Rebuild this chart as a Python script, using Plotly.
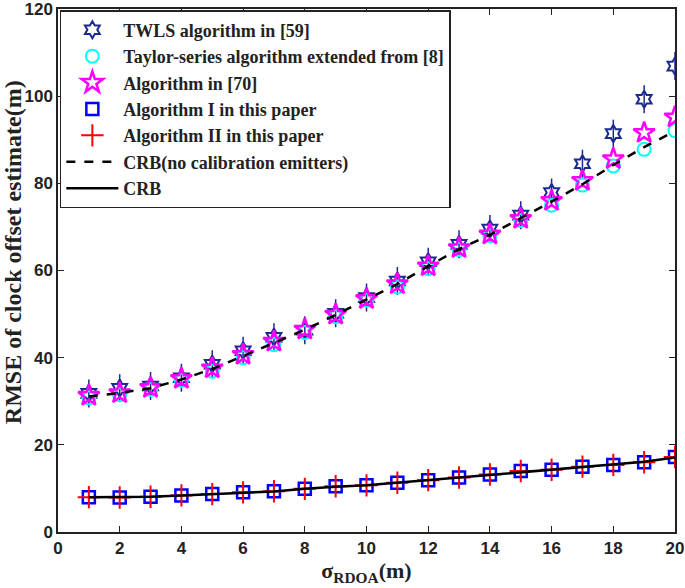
import plotly.graph_objects as go

x = list(range(1, 21))
twls = [31.8, 33.0, 33.5, 35.4, 38.5, 41.6, 44.7, 46.3, 50.2, 53.8, 57.6, 62.0, 66.0, 69.5, 72.7, 77.9, 84.5, 91.4, 99.3, 106.9]
taylor = [30.8, 31.5, 32.7, 34.8, 36.9, 40.0, 43.0, 45.8, 49.4, 53.2, 56.2, 60.4, 64.8, 68.0, 71.5, 75.0, 79.6, 84.0, 87.8, 92.1]
alg70 = [31.3, 31.9, 33.1, 35.2, 37.6, 40.7, 43.7, 46.5, 49.9, 53.5, 56.9, 61.0, 65.2, 68.3, 71.9, 76.0, 80.6, 85.6, 91.6, 95.2]
crb_nocal = [31.1, 31.9, 33.0, 35.0, 37.4, 40.4, 43.4, 46.4, 49.8, 53.4, 56.9, 61.0, 64.9, 68.2, 72.0, 75.8, 79.8, 84.2, 88.3, 92.0]
alg1 = [8.0, 7.9, 8.1, 8.4, 8.7, 9.1, 9.35, 9.9, 10.5, 10.7, 11.3, 11.9, 12.5, 13.2, 14.0, 14.3, 15.0, 15.4, 16.0, 17.2]
alg2 = [8.0, 7.9, 8.1, 8.4, 8.7, 9.1, 9.35, 9.9, 10.5, 10.7, 11.3, 11.9, 12.5, 13.2, 14.0, 14.3, 15.0, 15.4, 16.0, 17.2]
crb = [8.0, 8.0, 8.1, 8.4, 8.7, 9.0, 9.3, 9.9, 10.4, 10.7, 11.3, 11.9, 12.5, 13.1, 13.8, 14.3, 15.0, 15.5, 16.1, 17.1]

x_ticks = list(range(0, 21, 2))
y_ticks = list(range(0, 121, 20))

navy = "#1b2a8e"
fig = go.Figure()
fig.add_trace(go.Scatter(x=x, y=twls, mode="markers", name="TWLS algorithm in [59]",
                         marker=dict(symbol="hexagram-open", size=13, color=navy, line=dict(width=2, color=navy))))
fig.add_trace(go.Scatter(x=x, y=twls, mode="markers", showlegend=False, hoverinfo="skip",
                         marker=dict(symbol="line-ns-open", size=20, color=navy, line=dict(width=1.5, color=navy))))
fig.add_trace(go.Scatter(x=x, y=taylor, mode="markers", name="Taylor-series algorithm extended from [8]",
                         marker=dict(symbol="circle-open", size=13, color="#00ffff", line=dict(width=2, color="#00ffff"))))
fig.add_trace(go.Scatter(x=x, y=alg70, mode="markers", name="Algorithm in [70]",
                         marker=dict(symbol="star-open", size=16, color="#ff00ff", line=dict(width=2.5, color="#ff00ff"))))
fig.add_trace(go.Scatter(x=x, y=alg1, mode="markers", name="Algorithm I in this paper",
                         marker=dict(symbol="square-open", size=12, color="#0000ff", line=dict(width=2.5, color="#0000ff"))))
fig.add_trace(go.Scatter(x=x, y=alg2, mode="markers", name="Algorithm II in this paper",
                         marker=dict(symbol="cross-thin-open", size=16, color="#ff0000", line=dict(width=2, color="#ff0000"))))
fig.add_trace(go.Scatter(x=x, y=crb_nocal, mode="lines", name="CRB(no calibration emitters)",
                         line=dict(color="black", width=2.5, dash="dash")))
fig.add_trace(go.Scatter(x=x, y=crb, mode="lines", name="CRB",
                         line=dict(color="black", width=2.5)))

tickfont = dict(family="Liberation Sans Narrow, Liberation Sans, Arial", size=17, color="#222", weight="bold")
axis_common = dict(showline=True, linecolor="#222", linewidth=1.5, mirror="ticks", ticks="inside",
                   ticklen=6, tickcolor="#222", showgrid=False, zeroline=False, tickfont=tickfont,
                   automargin=False, ticklabeloverflow="allow")

fig.update_layout(
    width=685, height=588,
    margin=dict(l=58, r=10, t=9, b=56),
    paper_bgcolor="white", plot_bgcolor="white",
    font=dict(family="Liberation Serif, Times New Roman, serif", color="#222"),
    xaxis=dict(range=[0, 20], tickvals=x_ticks, **axis_common,
               title=dict(text="<b>σ<sub>RDOA</sub>(m)</b>", font=dict(size=22), standoff=2)),
    yaxis=dict(range=[0, 120], tickvals=y_ticks, **axis_common),
    legend=dict(x=0.003, y=0.998, xanchor="left", yanchor="top", bgcolor="white",
                bordercolor="#222", borderwidth=1.5, itemwidth=52,
                font=dict(family="Liberation Serif, Times New Roman, serif", size=18, color="#222"),
                tracegroupgap=0),
    showlegend=True,
)
fig.add_annotation(text="<b>RMSE of clock offset estimate(m)</b>", textangle=-90,
                   xref="paper", yref="paper", x=-0.073, y=0.535, xanchor="center", yanchor="middle",
                   showarrow=False, font=dict(size=24, family="Liberation Serif, Times New Roman, serif", color="#222"))
for tr in fig.data:
    if tr.name:
        tr.name = "<b>" + tr.name + "</b>"

fig.write_html("out.html", config={"displayModeBar": False},
               post_script="document.body.style.margin='0';document.body.style.overflow='hidden';")
